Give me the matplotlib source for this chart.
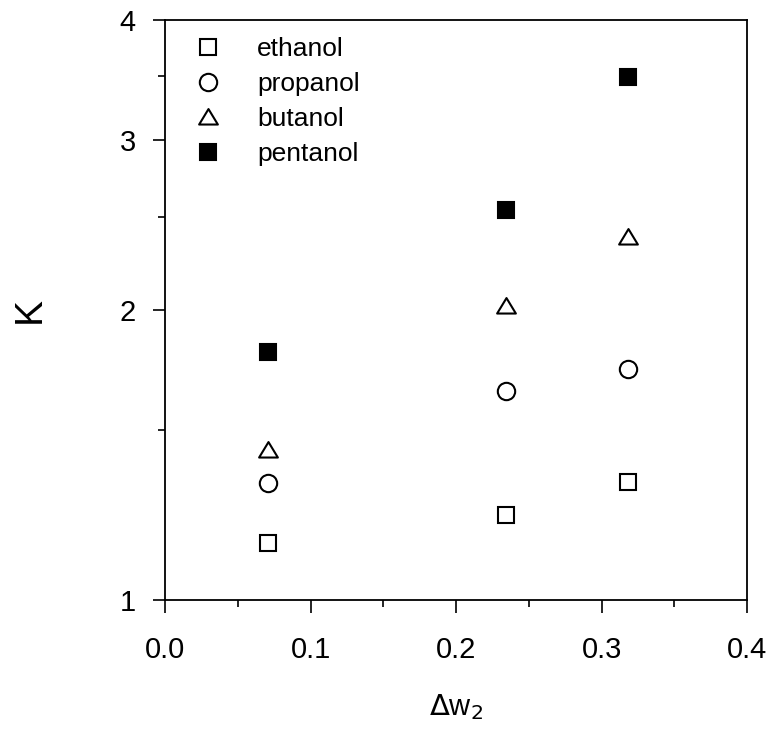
import matplotlib
matplotlib.use("Agg")
import matplotlib.pyplot as plt
from matplotlib.path import Path
from matplotlib.ticker import FixedLocator, NullFormatter

plt.rcParams['font.family'] = ['Liberation Sans', 'DejaVu Sans']

# data
dw2 = [0.071, 0.234, 0.318]
ethanol = [1.146, 1.225, 1.326]
propanol = [1.322, 1.648, 1.737]
butanol = [1.431, 2.02, 2.38]
pentanol = [1.809, 2.54, 3.49]

# a flatter triangle, like the one in the figure
tri = Path([(-1, -0.75), (1, -0.75), (0, 0.9), (-1, -0.75)],
           [Path.MOVETO, Path.LINETO, Path.LINETO, Path.CLOSEPOLY])

fig = plt.figure(figsize=(7.71, 7.32), dpi=100)
ax = fig.add_axes([0.214, 0.180, 0.755, 0.793])

mew = 1.5
ax.plot(dw2, ethanol, 's', ms=11, mfc='white', mec='black', mew=mew, ls='none', label='ethanol')
ax.plot(dw2, propanol, 'o', ms=12.5, mfc='white', mec='black', mew=mew, ls='none', label='propanol')
ax.plot(dw2, butanol, marker=tri, ms=13.5, mfc='white', mec='black', mew=mew, ls='none', label='butanol')
ax.plot(dw2, pentanol, 's', ms=11, mfc='black', mec='black', mew=mew, ls='none', label='pentanol')

ax.set_yscale('log')
ax.set_xlim(0.0, 0.4)
ax.set_ylim(1, 4)

ax.xaxis.set_major_locator(FixedLocator([0.0, 0.1, 0.2, 0.3, 0.4]))
ax.xaxis.set_minor_locator(FixedLocator([0.05, 0.15, 0.25, 0.35]))
ax.set_xticklabels(['0.0', '0.1', '0.2', '0.3', '0.4'])
ax.yaxis.set_major_locator(FixedLocator([1, 2, 3, 4]))
ax.yaxis.set_minor_locator(FixedLocator([1.5, 2.5, 3.5]))
ax.set_yticklabels(['1', '2', '3', '4'])
ax.yaxis.set_minor_formatter(NullFormatter())

ax.tick_params(which='major', direction='out', length=9, width=1.2, labelsize=21)
ax.tick_params(axis='x', which='major', pad=17)
ax.tick_params(axis='y', which='major', pad=12)
ax.tick_params(which='minor', direction='out', length=5, width=1.2)
for s in ax.spines.values():
    s.set_linewidth(1.3)

ax.set_xlabel(r'$\Delta$w$_2$', fontsize=21, labelpad=20)
ax.set_ylabel('K', fontsize=28, labelpad=52)

ax.legend(loc='upper left', bbox_to_anchor=(0, 1.022), frameon=False,
          fontsize=19, handlelength=1.0, handletextpad=1.36,
          labelspacing=0.42, borderaxespad=0.73, borderpad=0.4,
          markerscale=1.0)

fig.savefig('out.png', dpi=100)
